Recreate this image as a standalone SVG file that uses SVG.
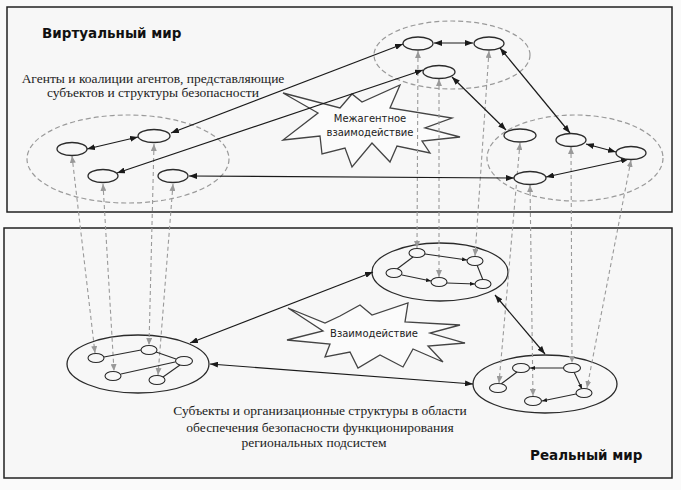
<svg xmlns="http://www.w3.org/2000/svg" width="681" height="490" viewBox="0 0 681 490">
<defs>
<marker id="ah" viewBox="0 0 8 6" refX="8" refY="3" markerWidth="8" markerHeight="6" markerUnits="userSpaceOnUse" orient="auto-start-reverse"><path d="M0,0 L8,3 L0,6 z" fill="#1a1a1a"/></marker>
<marker id="ahg" viewBox="0 0 7 6" refX="7" refY="3" markerWidth="7" markerHeight="6" markerUnits="userSpaceOnUse" orient="auto-start-reverse"><path d="M0,0 L7,3 L0,6 z" fill="#999"/></marker>
<marker id="ahs" viewBox="0 0 5 4" refX="5" refY="2" markerWidth="5" markerHeight="4" markerUnits="userSpaceOnUse" orient="auto"><path d="M0,0 L5,2 L0,4 z" fill="#1a1a1a"/></marker>
</defs>
<style>
.box{fill:#f7f7f7;stroke:#222;stroke-width:1.5}
.grp{fill:none;stroke:#9a9a9a;stroke-width:1.2;stroke-dasharray:5 3}
.big{fill:none;stroke:#2a2a2a;stroke-width:1.3}
.nd{fill:#f7f7f7;stroke:#2a2a2a;stroke-width:1.3}
.sn{fill:#f7f7f7;stroke:#2a2a2a;stroke-width:1.1}
.star{fill:#fbfbfb;stroke:#444;stroke-width:1.3;stroke-linejoin:miter}
.c{fill:none;stroke:#1a1a1a;stroke-width:1.2;marker-start:url(#ah);marker-end:url(#ah)}
.d{fill:none;stroke:#9a9a9a;stroke-width:1.1;stroke-dasharray:4 3;marker-start:url(#ahg);marker-end:url(#ahg)}
.e{fill:none;stroke:#2a2a2a;stroke-width:1.1}
.ea{fill:none;stroke:#2a2a2a;stroke-width:1.1;marker-end:url(#ahs)}
.ttl{font-family:"DejaVu Sans",sans-serif;font-weight:bold;font-size:13.5px;fill:#111}
.ser{font-family:"Liberation Serif",serif;font-size:13.5px;fill:#222;text-anchor:middle}
.st{font-family:"DejaVu Sans",sans-serif;font-size:10px;fill:#222;text-anchor:middle}
</style>
<rect width="681" height="490" fill="#fafafa"/>
<rect id="virtual-world" class="box" x="7" y="7" width="665" height="205"/>
<rect id="real-world" class="box" x="4" y="228" width="668" height="250"/>
<text class="ttl" x="42" y="38">Виртуальный мир</text>
<text class="ttl" x="530" y="460">Реальный мир</text>
<text class="ser" x="153" y="83">Агенты и коалиции агентов, представляющие</text>
<text class="ser" x="153" y="97">субъектов и структуры безопасности</text>
<text class="ser" x="320" y="415">Субъекты и организационные структуры в области</text>
<text class="ser" x="320" y="432">обеспечения безопасности функционирования</text>
<text class="ser" x="314" y="447">региональных подсистем</text>

<g id="star-interagent">
<polygon class="star" points="283,93 340,108 352,94 362,102 400,85 390,108 452,118 425,128 460,137 422,141 430,153 397,146 390,162 372,143 352,167 345,148 322,154 320,136 283,140 318,113"/>
<text class="st" x="370" y="122">Межагентное</text>
<text class="st" x="370" y="136">взаимодействие</text>
</g>
<g id="star-interaction">
<polygon class="star" points="288,308 325,323 340,316 360,305 372,315 408,303 405,322 460,325 430,333 465,343 428,346 443,362 413,349 403,367 380,355 358,368 350,352 325,357 330,344 287,340 323,331"/>
<text class="st" x="374" y="337">Взаимодействие</text>
</g>

<g id="group-virtual-left"><ellipse class="grp" cx="128" cy="159" rx="101" ry="44"/></g>
<g id="group-virtual-top"><ellipse class="grp" cx="452" cy="55" rx="78" ry="34"/></g>
<g id="group-virtual-right"><ellipse class="grp" cx="575" cy="158" rx="88" ry="43"/></g>
<g id="org-left"><ellipse class="big" cx="138" cy="364" rx="71" ry="29"/></g>
<g id="org-top"><ellipse class="big" cx="440" cy="272" rx="68" ry="29"/></g>
<g id="org-right"><ellipse class="big" cx="545" cy="384" rx="72" ry="29"/></g>

<g id="connectors">
<line class="d" x1="72" y1="156" x2="95" y2="353"/>
<line class="d" x1="103" y1="184" x2="114" y2="371"/>
<line class="d" x1="154" y1="144" x2="149" y2="345"/>
<line class="d" x1="173" y1="184" x2="158" y2="375"/>
<line class="d" x1="418" y1="51" x2="417" y2="248"/>
<line class="d" x1="439" y1="79" x2="439" y2="277"/>
<line class="d" x1="489" y1="51" x2="475" y2="256"/>
<line class="d" x1="520" y1="143" x2="499" y2="383"/>
<line class="d" x1="530" y1="185" x2="533" y2="396"/>
<line class="d" x1="571" y1="147" x2="572" y2="363"/>
<line class="d" x1="631" y1="160" x2="587" y2="388"/>

<line class="c" x1="87" y1="149" x2="138" y2="137"/>
<line class="c" x1="171" y1="133" x2="403" y2="44"/>
<line class="c" x1="117" y1="173" x2="423" y2="70"/>
<line class="c" x1="189" y1="176" x2="514" y2="178"/>
<line class="c" x1="434" y1="43" x2="473" y2="43"/>
<line class="c" x1="500" y1="48" x2="570" y2="133"/>
<line class="c" x1="452" y1="77" x2="506" y2="130"/>
<line class="c" x1="586" y1="144" x2="616" y2="152"/>
<line class="c" x1="629" y1="159" x2="546" y2="177"/>
<line class="c" x1="190" y1="343" x2="373" y2="272"/>
<line class="c" x1="210" y1="364" x2="473" y2="384"/>
<line class="c" x1="495" y1="295" x2="545" y2="354"/>

<line class="e" x1="104" y1="357" x2="141" y2="350"/>
<line class="e" x1="156" y1="352" x2="176" y2="359"/>
<line class="e" x1="121" y1="374" x2="175" y2="362"/>
<line class="e" x1="163" y1="377" x2="180" y2="365"/>

<line class="ea" x1="425" y1="254" x2="467" y2="260"/>
<line class="e" x1="413" y1="257" x2="397" y2="269"/>
<line class="ea" x1="402" y1="275" x2="431" y2="281"/>
<line class="ea" x1="447" y1="283" x2="475" y2="284"/>
<line class="e" x1="477" y1="265" x2="483" y2="280"/>

<line class="ea" x1="564" y1="368" x2="530" y2="368"/>
<line class="e" x1="517" y1="372" x2="501" y2="384"/>
<line class="ea" x1="574" y1="372" x2="582" y2="389"/>
<line class="ea" x1="576" y1="394" x2="542" y2="401"/>
</g>

<g id="agent-l1"><ellipse class="nd" cx="72" cy="149" rx="15" ry="6.5"/></g>
<g id="agent-l2"><ellipse class="nd" cx="154" cy="136" rx="16" ry="6.5"/></g>
<g id="agent-l3"><ellipse class="nd" cx="103" cy="176" rx="15" ry="6.5"/></g>
<g id="agent-l4"><ellipse class="nd" cx="173" cy="176" rx="15" ry="6.5"/></g>
<g id="agent-t1"><ellipse class="nd" cx="418" cy="43.5" rx="15" ry="6.5"/></g>
<g id="agent-t2"><ellipse class="nd" cx="489" cy="43.5" rx="15" ry="6.5"/></g>
<g id="agent-t3"><ellipse class="nd" cx="439" cy="72" rx="16" ry="6.5"/></g>
<g id="agent-r1"><ellipse class="nd" cx="520" cy="135.5" rx="16" ry="6.5"/></g>
<g id="agent-r2"><ellipse class="nd" cx="571" cy="140" rx="15" ry="6.5"/></g>
<g id="agent-r3"><ellipse class="nd" cx="631" cy="153" rx="15" ry="6.5"/></g>
<g id="agent-r4"><ellipse class="nd" cx="530" cy="178" rx="16" ry="6.5"/></g>

<g id="sub-a1"><ellipse class="sn" cx="96" cy="358" rx="8" ry="4.5"/></g>
<g id="sub-a2"><ellipse class="sn" cx="149" cy="350" rx="8" ry="4.5"/></g>
<g id="sub-a3"><ellipse class="sn" cx="184" cy="361" rx="8.5" ry="4.5"/></g>
<g id="sub-a4"><ellipse class="sn" cx="113" cy="376" rx="8" ry="4.5"/></g>
<g id="sub-a5"><ellipse class="sn" cx="157" cy="380" rx="8" ry="4.5"/></g>
<g id="sub-b1"><ellipse class="sn" cx="417" cy="253" rx="8" ry="4.5"/></g>
<g id="sub-b2"><ellipse class="sn" cx="475" cy="261" rx="8" ry="4.5"/></g>
<g id="sub-b3"><ellipse class="sn" cx="394" cy="273" rx="8" ry="4.5"/></g>
<g id="sub-b4"><ellipse class="sn" cx="439" cy="282" rx="8" ry="4.5"/></g>
<g id="sub-b5"><ellipse class="sn" cx="483" cy="284" rx="8" ry="4.5"/></g>
<g id="sub-c1"><ellipse class="sn" cx="521" cy="368" rx="8.5" ry="4.5"/></g>
<g id="sub-c2"><ellipse class="sn" cx="572" cy="368" rx="8.5" ry="4.5"/></g>
<g id="sub-c3"><ellipse class="sn" cx="498" cy="388" rx="8.5" ry="4.5"/></g>
<g id="sub-c4"><ellipse class="sn" cx="584" cy="393" rx="8" ry="4.5"/></g>
<g id="sub-c5"><ellipse class="sn" cx="533" cy="401" rx="8.5" ry="4.5"/></g>
</svg>
